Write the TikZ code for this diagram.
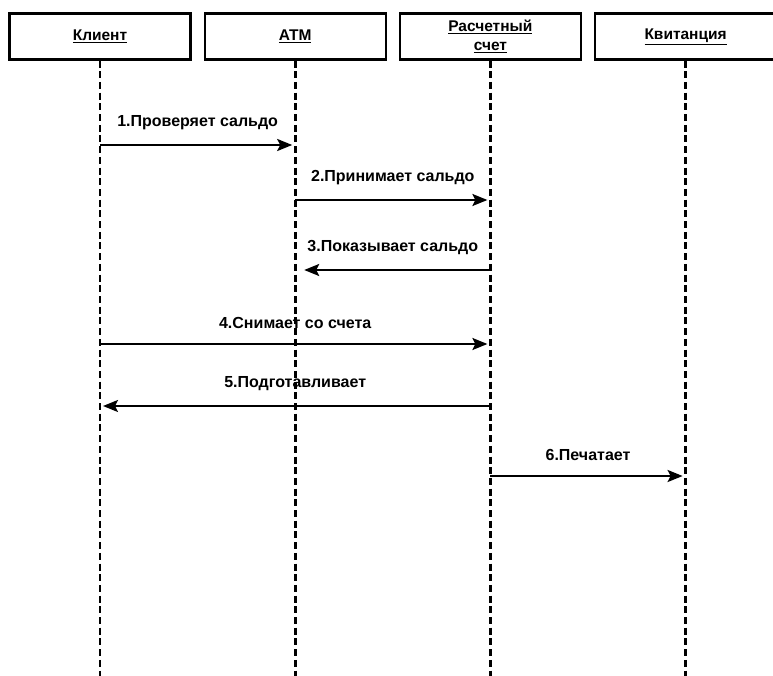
\documentclass[tikz,border=0pt]{standalone}
\usepackage{fontspec}
\setmainfont{Liberation Sans}
\usetikzlibrary{arrows.meta,positioning,calc}
\tikzset{
  actor/.style = {rectangle, draw, line width=2.2pt, minimum width=181pt,
    minimum height=46pt, inner sep=2pt, align=center,
    font=\fontsize{15.5}{16}\selectfont\bfseries},
  lifeline/.style = {line width=2.6pt, dash pattern=on 7pt off 3.7pt},
  msg/.style = {line width=2.2pt, shorten >=3pt,
    -{Stealth[length=15pt, width=12pt, inset=3pt]}},
  msglabel/.style = {above=11pt, font=\fontsize{16}{17}\selectfont\bfseries}
}

\begin{document}
\begin{tikzpicture}[x=1pt, y=-1pt, node distance=12pt]
\useasboundingbox (0,0) rectangle (773,676);

% objects
\node[actor] (client) at (100,36.5) {\underline{Клиент}};
\node[actor, right=of client] (atm) {\underline{ATM}};
\node[actor, right=of atm] (account) {\underline{Расчетный}\\[3pt]\underline{счет}};
\node[actor, right=of account] (receipt) {\underline{Квитанция}};

% lifelines
\coordinate (client-end) at (client.south |- 0,676);
\coordinate (atm-end) at (atm.south |- 0,676);
\coordinate (account-end) at (account.south |- 0,676);
\coordinate (receipt-end) at (receipt.south |- 0,676);
\draw[lifeline] (client.south) -- (client-end);
\draw[lifeline] (atm.south) -- (atm-end);
\draw[lifeline] (account.south) -- (account-end);
\draw[lifeline] (receipt.south) -- (receipt-end);

% messages
\coordinate (m1a) at (client.south |- 0,145);
\coordinate (m1b) at (atm.south |- 0,145);
\coordinate (m2a) at (atm.south |- 0,200);
\coordinate (m2b) at (account.south |- 0,200);
\coordinate (m3a) at (account.south |- 0,270);
\coordinate (m3b) at (atm.south |- 0,270);
\coordinate (m4a) at (client.south |- 0,344);
\coordinate (m4b) at (account.south |- 0,344);
\coordinate (m5a) at (account.south |- 0,406);
\coordinate (m5b) at (client.south |- 0,406);
\coordinate (m6a) at (account.south |- 0,476);
\coordinate (m6b) at (receipt.south |- 0,476);

\draw[msg] (m1a) -- node[msglabel] {1.Проверяет сальдо} (m1b);
\draw[msg] (m2a) -- node[msglabel] {2.Принимает сальдо} (m2b);
\draw[msg, shorten >=9pt] (m3a) -- node[msglabel] {3.Показывает сальдо} (m3b);
\draw[msg] (m4a) -- node[msglabel] {4.Снимает со счета} (m4b);
\draw[msg] (m5a) -- node[msglabel] {5.Подготавливает} (m5b);
\draw[msg] (m6a) -- node[msglabel] {6.Печатает} (m6b);

\end{tikzpicture}
\end{document}
